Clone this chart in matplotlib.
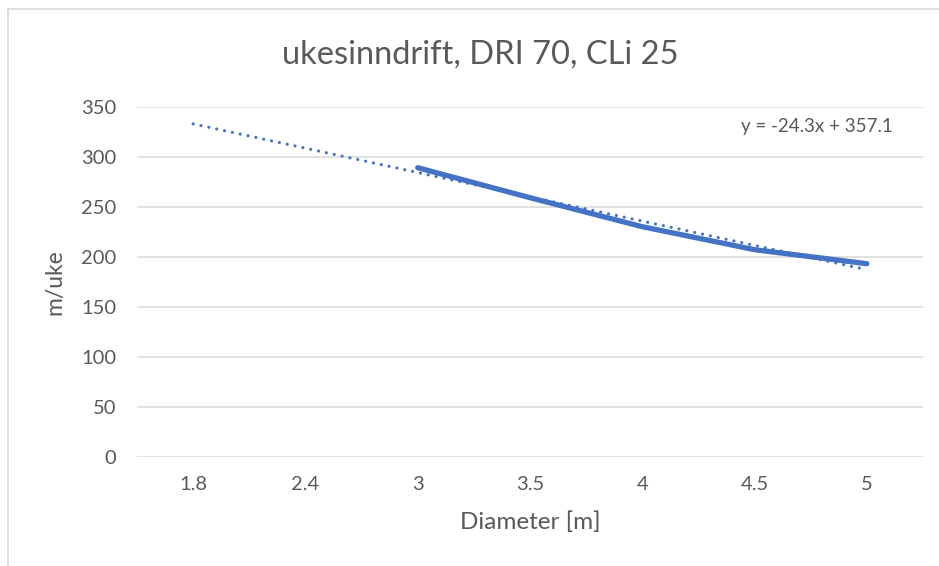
import numpy as np
import matplotlib.pyplot as plt
from matplotlib.lines import Line2D

plt.rcParams['font.family'] = ['Lato', 'DejaVu Sans']

# kategorier (diameter) og verdier
diameters = ['1.8', '2.4', '3', '3.5', '4', '4.5', '5']
meter_per_uke = [None, None, 289, 259, 230, 207, 193]

# lineær trendlinje fra Excel
trend_slope = -24.3
trend_intercept = 357.1

blue = '#4472C4'
grid_col = '#D9D9D9'
txt_col = '#595959'

fig = plt.figure(figsize=(9.39, 5.66), dpi=100)
ax = fig.add_axes([137 / 939, (566 - 456.7) / 566, 786 / 939, 350 / 566])

x = np.arange(1, len(diameters) + 1)
y = np.array([np.nan if v is None else v for v in meter_per_uke], dtype=float)

# trendlinje (prikket)
ax.plot(x, trend_slope * x + trend_intercept, color=blue, lw=2.3,
        linestyle=(0, (0.01, 2.5)), dash_capstyle='round', zorder=2)
# data
ax.plot(x, y, color=blue, lw=3.8, solid_capstyle='round', zorder=3)

ax.set_xlim(0.5, len(diameters) + 0.5)
ax.set_ylim(0, 350)
ax.set_yticks(np.arange(0, 351, 50))
ax.set_xticks(x)
ax.set_xticklabels(diameters)

ax.grid(axis='y', color=grid_col, lw=1.1)
ax.set_axisbelow(True)
for s in ax.spines.values():
    s.set_visible(False)
ax.tick_params(length=0, labelsize=14.5, labelcolor=txt_col)
ax.tick_params(axis='y', pad=15)
ax.tick_params(axis='x', pad=14)

ax.set_xlabel('Diameter [m]', fontsize=17.5, color=txt_col, labelpad=13)
ax.set_ylabel('m/uke', fontsize=16.5, color=txt_col, labelpad=11)
fig.text(480 / 939, 1 - 55 / 566, 'ukesinndrift, DRI 70, CLi 25', ha='center',
         va='center', fontsize=23.5, color=txt_col)

ax.text(7.23, 330, 'y = -24.3x + 357.1', ha='right', va='center',
        fontsize=13.5, color=txt_col)

# ramme (synlig del)
fig.add_artist(Line2D([8 / 939, 8 / 939], [0, 1 - 9 / 566], color=grid_col, lw=1.2))
fig.add_artist(Line2D([8 / 939, 1], [1 - 9 / 566, 1 - 9 / 566], color=grid_col, lw=1.2))

fig.savefig('out.png', dpi=100)
